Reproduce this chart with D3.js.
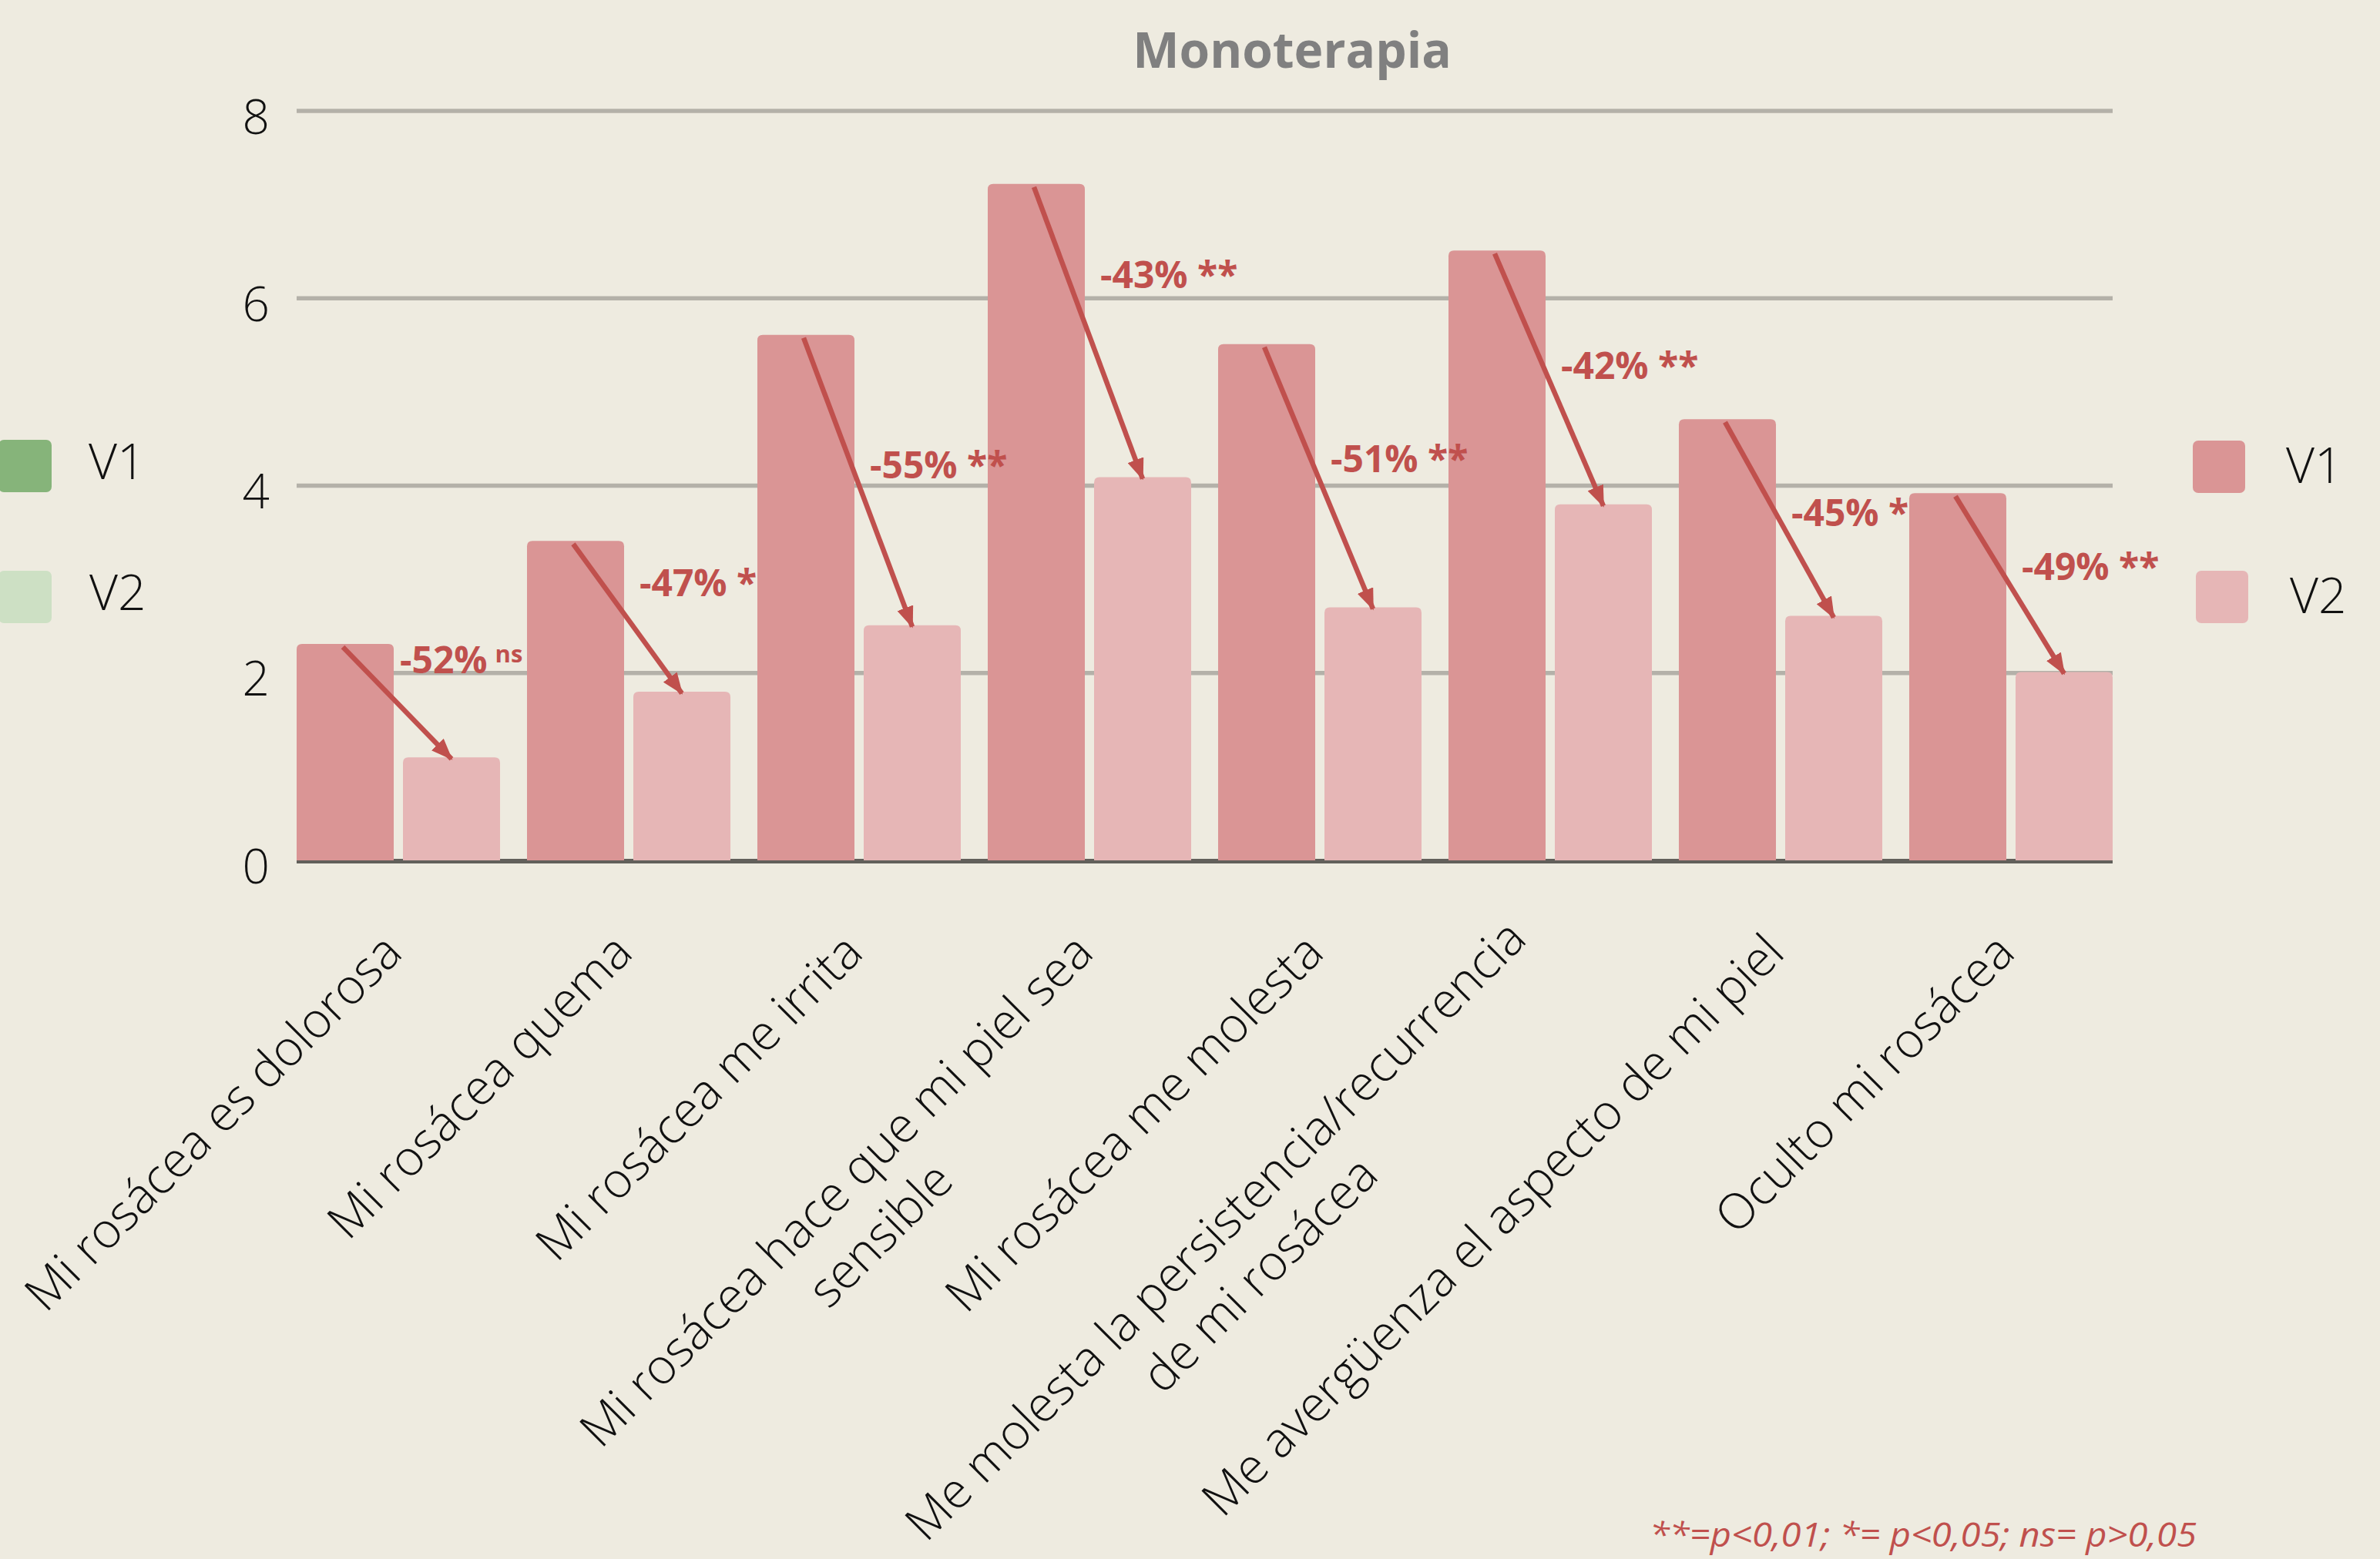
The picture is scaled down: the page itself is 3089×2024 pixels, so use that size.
<!DOCTYPE html>
<html>
<head>
<meta charset="utf-8">
<script src="https://cdn.jsdelivr.net/npm/d3@7"></script>
<style>
  html, body { margin: 0; padding: 0; background: #EEEBE0; }
  svg { display: block; }
</style>
</head>
<body>
<svg id="chart" width="3089" height="2024"></svg>
<script>
// ---------- data ----------
const title = "Monoterapia";
const categories = [
  ["Mi rosácea es dolorosa"],
  ["Mi rosácea quema"],
  ["Mi rosácea me irrita"],
  ["Mi rosácea hace que mi piel sea", "sensible"],
  ["Mi rosácea me molesta"],
  ["Me molesta la persistencia/recurrencia", "de mi rosácea"],
  ["Me avergüenza el aspecto de mi piel"],
  ["Oculto mi rosácea"]
];
const seriesNames = ["V1", "V2"];
const v1Values = [2.31, 3.41, 5.61, 7.22, 5.51, 6.51, 4.71, 3.92];
const v2Values = [1.10, 1.80, 2.51, 4.09, 2.70, 3.80, 2.61, 2.01];
const changeLabels = ["-52%", "-47%", "-55%", "-43%", "-51%", "-42%", "-45%", "-49%"];
const significance = ["ns", "*", "**", "**", "**", "**", "*", "**"];
const labelLevels = [2.00, 2.82, 4.08, 6.11, 4.14, 5.14, 3.57, 2.99]; // annotation baseline, in value units
const yTicks = [0, 2, 4, 6, 8];
const legendLeftNames = ["V1", "V2"];
const footnote = "**=p<0,01; *= p<0,05; ns= p>0,05";

// ---------- style ----------
const W = 3089, H = 2024;
const bg = "#EEEBE0";
const colV1 = "#DA9595", colV2 = "#E6B6B6";
const red = "#C0504D";
const gridCol = "#B4B1A9";
const baseCol = "#62605B";
const font = "'Open Sans', 'Noto Sans', sans-serif";
const labelNudge = { 0: [-12, 0], 5: [-36, -18] }; // layout tweaks (px)

const svg = d3.select("#chart");
svg.append("rect").attr("width", W).attr("height", H).attr("fill", bg);

const plotLeft = 385, plotRight = 2742, plotTop = 144, plotBottom = 1117;
const keys = categories.map((c, i) => "c" + i);

const x0 = d3.scaleBand().domain(keys).range([plotLeft, plotRight]).paddingInner(0.117).paddingOuter(0);
const x1 = d3.scaleBand().domain(seriesNames).range([0, x0.bandwidth()]).paddingInner(0.087).paddingOuter(0);
const y = d3.scaleLinear().domain([0, 8]).range([plotBottom, plotTop]);

// gridlines
svg.append("g").selectAll("line").data(yTicks.filter(d => d > 0)).join("line")
  .attr("x1", plotLeft).attr("x2", plotRight)
  .attr("y1", d => y(d)).attr("y2", d => y(d))
  .attr("stroke", gridCol).attr("stroke-width", 5.5);

// baseline
svg.append("line").attr("x1", plotLeft).attr("x2", plotRight)
  .attr("y1", y(0) + 1).attr("y2", y(0) + 1)
  .attr("stroke", baseCol).attr("stroke-width", 6);

// y axis labels via d3 axis
const yAxis = d3.axisLeft(y).tickValues(yTicks).tickSize(0).tickPadding(0).tickFormat(d3.format("d"));
const yg = svg.append("g").attr("transform", `translate(${350},0)`).call(yAxis);
yg.select(".domain").remove();
yg.selectAll("text")
  .attr("font-family", font).attr("font-weight", 300).attr("font-size", 62)
  .attr("fill", "#111").attr("dy", null).attr("y", 29).attr("x", 0)
  .attr("text-anchor", "end");

// bars with rounded tops
function topRounded(x, yTop, w, yBot, r) {
  r = Math.min(r, (yBot - yTop));
  return `M${x},${yBot}V${yTop + r}Q${x},${yTop} ${x + r},${yTop}H${x + w - r}Q${x + w},${yTop} ${x + w},${yTop + r}V${yBot}Z`;
}
const rows = keys.map((k, i) => ({ key: k, i, vals: [v1Values[i], v2Values[i]] }));
const groups = svg.append("g").selectAll("g").data(rows).join("g")
  .attr("transform", d => `translate(${x0(d.key)},0)`);
groups.selectAll("path").data(d => d.vals.map((v, j) => ({ v, s: seriesNames[j] }))).join("path")
  .attr("d", d => topRounded(x1(d.s), y(d.v), x1.bandwidth(), y(0), 7))
  .attr("fill", d => d.s === "V1" ? colV1 : colV2);

// arrows
const defs = svg.append("defs");
defs.append("marker").attr("id", "ah")
  .attr("markerUnits", "userSpaceOnUse")
  .attr("viewBox", "0 0 28 22").attr("refX", 26).attr("refY", 11)
  .attr("markerWidth", 28).attr("markerHeight", 22).attr("orient", "auto")
  .append("path").attr("d", "M0,0L28,11L0,22Z").attr("fill", red);

svg.append("g").selectAll("line").data(rows).join("line")
  .attr("x1", d => x0(d.key) + x1("V1") + x1.bandwidth() / 2 - 3)
  .attr("y1", d => y(d.vals[0]) + 4)
  .attr("x2", d => x0(d.key) + x1("V2") + x1.bandwidth() / 2)
  .attr("y2", d => y(d.vals[1]) + 2)
  .attr("stroke", red).attr("stroke-width", 6.5)
  .attr("marker-end", "url(#ah)");

// change labels
const lab = svg.append("g").selectAll("text").data(rows).join("text")
  .attr("x", d => x0(d.key) + x1("V1") + x1.bandwidth() + 20 + (labelNudge[d.i] && d.i === 0 ? labelNudge[d.i][0] : 0))
  .attr("y", d => y(labelLevels[d.i]))
  .attr("font-family", font).attr("font-weight", 700).attr("font-size", 48)
  .attr("fill", red);
lab.each(function (d) {
  const t = d3.select(this);
  t.append("tspan").text(changeLabels[d.i]);
  if (significance[d.i] === "ns") {
    t.append("tspan").attr("font-size", 31).attr("dy", -14).attr("dx", 10).text("ns");
  } else {
    t.append("tspan").text(" " + significance[d.i]);
  }
});

// x category labels: rotated -45, multi-line centered, block right-anchored
const xl = svg.append("g").selectAll("g").data(rows).join("g")
  .attr("transform", d => {
    const n = (d.i === 5 && labelNudge[5]) ? labelNudge[5] : [0, 0];
    return `translate(${x0(d.key) + x0.bandwidth() / 2 + 8 + n[0]},${1240 + n[1]}) rotate(-45)`;
  });
xl.each(function (d) {
  const g = d3.select(this);
  const lines = categories[d.i];
  const texts = lines.map((ln, k) => g.append("text")
    .attr("font-family", font).attr("font-weight", 300).attr("font-size", 63.5)
    .attr("fill", "#111").attr("text-anchor", "middle")
    .attr("y", k * 81).text(ln));
  const maxW = d3.max(texts, t => t.node().getComputedTextLength());
  texts.forEach(t => t.attr("x", -maxW / 2));
});

// title
svg.append("text").attr("x", 1677).attr("y", 88).attr("text-anchor", "middle")
  .attr("font-family", font).attr("font-weight", 700).attr("font-size", 64)
  .attr("fill", "#808080").text(title);

// right legend
const legR = svg.append("g");
const legRPos = [{ sx: 2846, sy: 572, tx: 2967, ty: 627 }, { sx: 2850, sy: 741, tx: 2972, ty: 796 }];
seriesNames.forEach((s, i) => {
  legR.append("rect").attr("x", legRPos[i].sx).attr("y", legRPos[i].sy).attr("width", 68).attr("height", 68)
    .attr("rx", 7).attr("fill", i === 0 ? colV1 : colV2);
  legR.append("text").attr("x", legRPos[i].tx).attr("y", legRPos[i].ty)
    .attr("font-family", font).attr("font-weight", 300).attr("font-size", 64).attr("fill", "#111").text(s);
});

// left legend (green, partly cut off)
const legL = svg.append("g");
const greens = ["#86B47A", "#CDE0C4"];
const legLPos = [{ sy: 571, tx: 115, ty: 622 }, { sy: 741, tx: 116, ty: 792 }];
legendLeftNames.forEach((s, i) => {
  legL.append("rect").attr("x", -2).attr("y", legLPos[i].sy).attr("width", 69).attr("height", 68)
    .attr("rx", 7).attr("fill", greens[i]);
  legL.append("text").attr("x", legLPos[i].tx).attr("y", legLPos[i].ty)
    .attr("font-family", font).attr("font-weight", 300).attr("font-size", 64).attr("fill", "#111").text(s);
});

// footnote
svg.append("text").attr("x", 2141).attr("y", 2008)
  .attr("font-family", font).attr("font-style", "italic").attr("font-weight", 400).attr("font-size", 44)
  .attr("fill", red).attr("textLength", 710).attr("lengthAdjust", "spacingAndGlyphs")
  .text(footnote);
</script>
</body>
</html>
